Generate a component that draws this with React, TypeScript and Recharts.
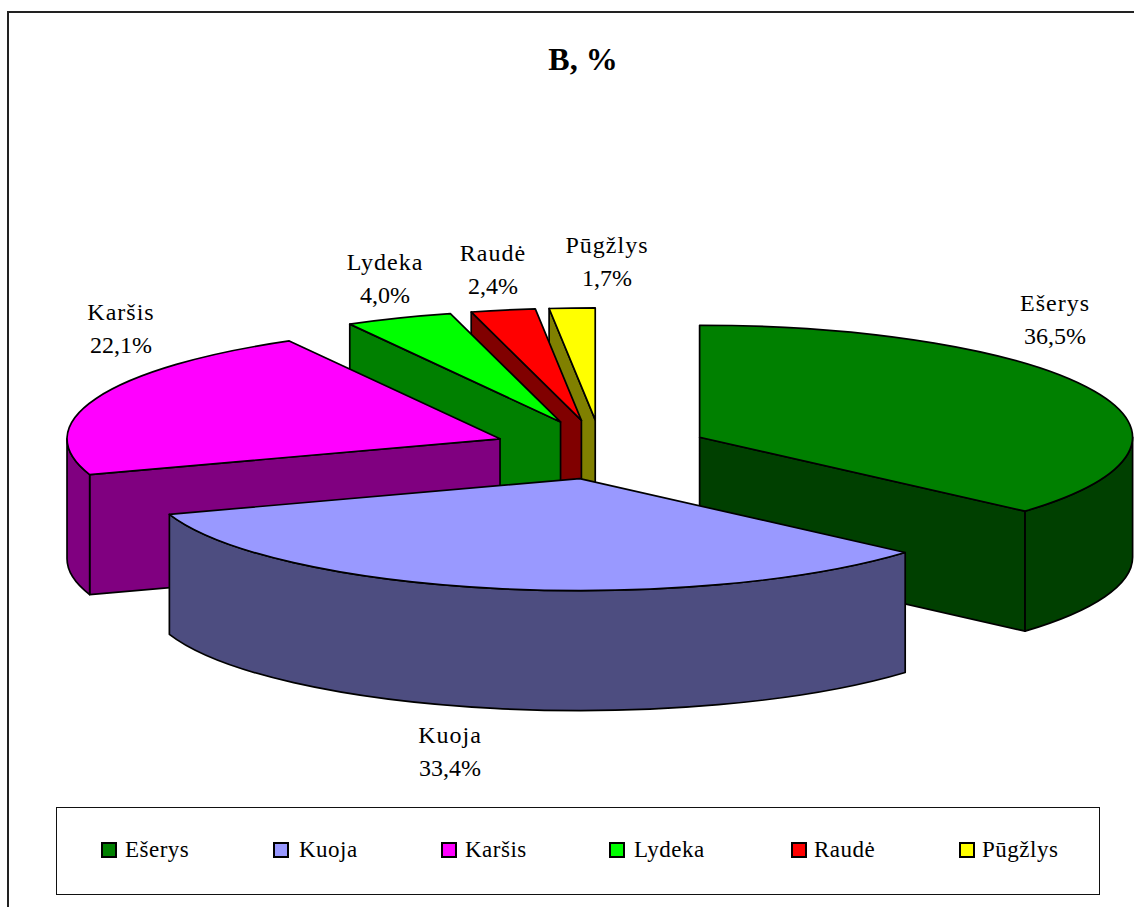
import React from 'react';
import { PieChart, Pie, Legend } from 'recharts';

const categories = ['Ešerys', 'Kuoja', 'Karšis', 'Lydeka', 'Raudė', 'Pūgžlys'];
const values = [36.5, 33.4, 22.1, 4.0, 2.4, 1.7];
const topColors = ['#008000', '#9999FF', '#FF00FF', '#00FF00', '#FF0000', '#FFFF00'];
const wallColors = ['#004000', '#4D4D80', '#800080', '#008000', '#800000', '#808000'];
// Painted back-to-front; the pie runs counter-clockwise from the end of the first slice.
const drawOrder = [0, 5, 4, 3, 2, 1];
const labelCentres: Record<string, [number, number]> = {
  'Ešerys': [1055, 303],
  'Kuoja': [450, 735],
  'Karšis': [121, 312],
  'Lydeka': [385, 262],
  'Raudė': [493, 253],
  'Pūgžlys': [607, 245],
};
const legendX = [101, 273, 441, 609, 791, 959];
const legendTextX = [125, 299, 465, 634, 814, 982];

const SERIF = '"Liberation Serif", "Times New Roman", serif';
const TILT = 0.2587;
const DEPTH = 120;
const EXPLODE_X = 0.25;
const EXPLODE_Y = 0.265;

const total = values.reduce((a, b) => a + b, 0);
const startAngle = 90 - (values[0] / total) * 360;
const rows = drawOrder.map((i) => ({
  name: categories[i],
  value: values[i],
  fill: topColors[i],
  wall: wallColors[i],
}));

const fmt = (v: number) => `${v.toFixed(1).replace('.', ',')}%`;

function Slice3D(props: any) {
  const { cx, cy, outerRadius, startAngle: a0, endAngle: a1, fill, wall } = props;
  const delta = Math.abs(a1 - a0);
  const s = (((90 - Math.max(a0, a1)) % 360) + 360) % 360;
  const e = s + delta;
  const rx = outerRadius;
  const ry = outerRadius * TILT;
  const mid = ((s + e) / 2) * (Math.PI / 180);
  const ox = cx + EXPLODE_X * rx * Math.sin(mid);
  const oy = cy - EXPLODE_Y * ry * Math.cos(mid);
  const pt = (deg: number, dz = 0) => {
    const t = (deg * Math.PI) / 180;
    return `${(ox + rx * Math.sin(t)).toFixed(2)} ${(oy - ry * Math.cos(t) + dz).toFixed(2)}`;
  };
  const apex = `${ox.toFixed(2)} ${oy.toFixed(2)}`;
  const apexLow = `${ox.toFixed(2)} ${(oy + DEPTH).toFixed(2)}`;
  const common = { stroke: '#000', strokeWidth: 1.7, strokeLinejoin: 'round' as const };
  const walls: React.ReactNode[] = [];
  if (s > 180 && s < 360) {
    walls.push(<path key="s" d={`M${apex} L${pt(s)} L${pt(s, DEPTH)} L${apexLow} Z`} fill={wall} {...common} />);
  }
  if (e > 0 && e < 180) {
    walls.push(<path key="e" d={`M${apex} L${pt(e)} L${pt(e, DEPTH)} L${apexLow} Z`} fill={wall} {...common} />);
  }
  const from = Math.max(s, 90);
  const to = Math.min(e, 270);
  if (to > from) {
    walls.push(
      <path
        key="rim"
        d={`M${pt(from)} A${rx} ${ry} 0 ${to - from > 180 ? 1 : 0} 1 ${pt(to)} L${pt(to, DEPTH)} A${rx} ${ry} 0 ${to - from > 180 ? 1 : 0} 0 ${pt(from, DEPTH)} Z`}
        fill={wall}
        {...common}
      />
    );
  }
  return (
    <g>
      {walls}
      <path d={`M${apex} L${pt(s)} A${rx} ${ry} 0 ${delta > 180 ? 1 : 0} 1 ${pt(e)} Z`} fill={fill} {...common} />
    </g>
  );
}

function SliceLabel(props: any) {
  const [x, y] = labelCentres[props.name];
  return (
    <text x={x} y={y} textAnchor="middle" fontFamily={SERIF} fontSize={24} fill="#000">
      <tspan x={x} dy={8} letterSpacing={1}>{props.name}</tspan>
      <tspan x={x} dy={33}>{fmt(props.value)}</tspan>
    </text>
  );
}

function LegendBox() {
  return (
    <div
      style={{
        position: 'relative',
        width: 1044,
        height: 88,
        boxSizing: 'border-box',
        border: '1.5px solid #111',
        background: '#fff',
      }}
    >
      {categories.map((c, i) => (
        <React.Fragment key={c}>
          <div
            style={{
              position: 'absolute',
              left: legendX[i] - 57,
              top: 34,
              width: 16,
              height: 16,
              boxSizing: 'border-box',
              background: topColors[i],
              border: '2px solid #000',
            }}
          />
          <div
            style={{
              position: 'absolute',
              left: legendTextX[i] - 57,
              top: 27,
              fontFamily: SERIF,
              fontSize: 23,
              letterSpacing: 0.5,
              lineHeight: '30px',
              color: '#000',
              whiteSpace: 'nowrap',
            }}
          >
            {c}
          </div>
        </React.Fragment>
      ))}
    </div>
  );
}

export default function App() {
  return (
    <div style={{ position: 'absolute', left: 0, top: 0, width: 1134, height: 907, overflow: 'hidden', background: '#fff' }}>
      <div style={{ position: 'absolute', left: 7, top: 11, width: 1200, height: 1000, border: '2px solid #222' }} />
      <div
        style={{
          position: 'absolute',
          left: 483,
          width: 200,
          top: 40,
          textAlign: 'center',
          fontFamily: SERIF,
          fontWeight: 'bold',
          fontSize: 32,
          lineHeight: '38px',
          color: '#000',
        }}
      >
        B, %
      </div>
      <div style={{ position: 'absolute', left: 0, top: 0 }}>
        <PieChart width={1134} height={907} margin={{ top: 0, right: 0, bottom: 0, left: 0 }}>
          <Pie
            data={rows}
            dataKey="value"
            nameKey="name"
            cx={601}
            cy={449.5}
            innerRadius={0}
            outerRadius={433}
            startAngle={startAngle}
            endAngle={startAngle + 360}
            shape={Slice3D}
            label={SliceLabel}
            labelLine={false}
            stroke="#000"
            isAnimationActive={false}
          />
          <Legend
            content={<LegendBox />}
            wrapperStyle={{ position: 'absolute', left: 56, top: 807, width: 1044, height: 88, bottom: 'auto' }}
          />
        </PieChart>
      </div>
    </div>
  );
}
